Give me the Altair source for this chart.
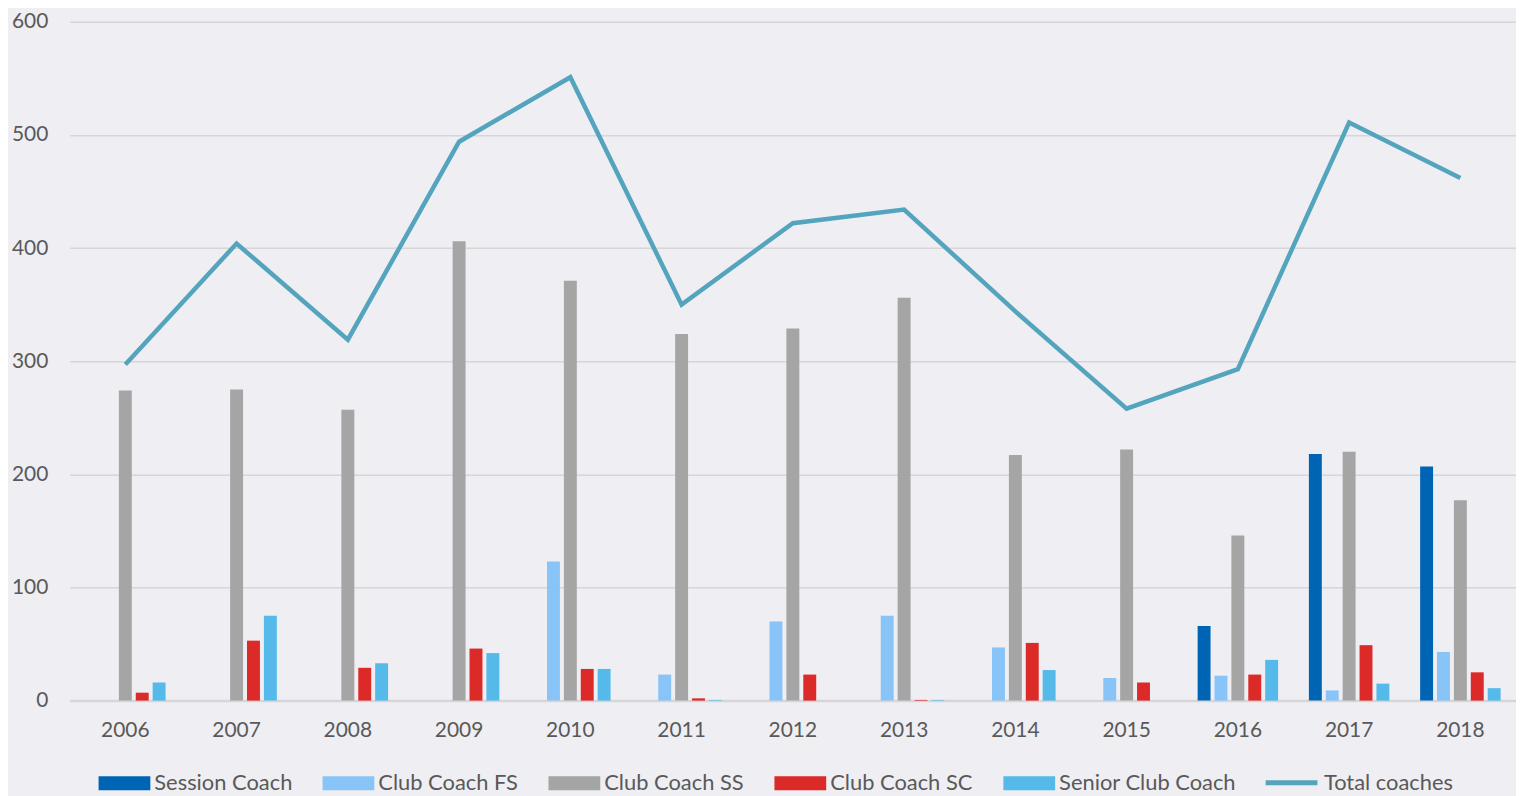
import altair as alt
import pandas as pd

years = [str(y) for y in range(2006, 2019)]
series = ["Session Coach", "Club Coach FS", "Club Coach SS", "Club Coach SC", "Senior Club Coach"]
session_coach = [0, 0, 0, 0, 0, 0, 0, 0, 0, 0, 66, 218, 207]
club_coach_fs = [0, 0, 0, 0, 123, 23, 70, 75, 47, 20, 22, 9, 43]
club_coach_ss = [274, 275, 257, 406, 371, 324, 329, 356, 217, 222, 146, 220, 177]
club_coach_sc = [7, 53, 29, 46, 28, 2, 23, 0.6, 51, 16, 23, 49, 25]
senior_club_coach = [16, 75, 33, 42, 28, 0.6, 0, 0.6, 27, 0, 36, 15, 11]
total_coaches = [297, 404, 319, 494, 551, 350, 422, 434, 344, 258, 293, 511, 462]

bar_colors = ["#0064B4", "#88C4F8", "#A5A5A5", "#DC2A28", "#55B9EA"]
line_color = "#55A4BE"

rows = []
for vals, name in zip([session_coach, club_coach_fs, club_coach_ss, club_coach_sc, senior_club_coach], series):
    for y, v in zip(years, vals):
        rows.append({"year": y, "series": name, "value": v})
bars_df = pd.DataFrame(rows)
line_df = pd.DataFrame({"year": years, "series": "Total coaches", "value": total_coaches})

FONT = "Lato"
TXT = "#595959"

x_enc = alt.X("year:N", sort=years, title=None,
              scale=alt.Scale(paddingInner=0.241, paddingOuter=0.1205),
              axis=alt.Axis(labelAngle=0, labelFontSize=21, labelColor=TXT, labelFont=FONT,
                            labelPadding=19, ticks=False, domainColor="#D6D6D9", domainWidth=2.5))
y_enc = alt.Y("value:Q", title=None,
              scale=alt.Scale(domain=[0, 600], nice=False),
              axis=alt.Axis(values=[0, 100, 200, 300, 400, 500, 600], labelFontSize=21, labelColor=TXT,
                            labelFont=FONT, labelPadding=22, ticks=False, domain=False,
                            gridColor="#D6D6D9", gridWidth=1.5))

bar_legend = alt.Legend(
    title=None, orient="none", legendX=29, legendY=739, direction="horizontal",
    labelFontSize=22, labelColor=TXT, labelFont=FONT, labelOffset=4, columnPadding=30,
    labelLimit=400,
    symbolType="M-1,-0.27H1V0.27H-1Z", symbolSize=2704, symbolStrokeWidth=0, symbolOpacity=1,
)
line_legend = alt.Legend(
    title=None, orient="none", legendX=1199, legendY=736, direction="horizontal",
    labelFontSize=22, labelColor=TXT, labelFont=FONT, labelOffset=4, labelLimit=400,
    symbolType="stroke", symbolSize=2704, symbolStrokeWidth=5, symbolOpacity=1,
    symbolStrokeColor=line_color,
)

bars = alt.Chart(bars_df).mark_bar().encode(
    x=x_enc,
    xOffset=alt.XOffset("series:N", sort=series,
                        scale=alt.Scale(paddingInner=0.235, paddingOuter=0.1175)),
    y=y_enc,
    color=alt.Color("series:N", scale=alt.Scale(domain=series, range=bar_colors),
                    legend=bar_legend, sort=series),
)

line = alt.Chart(line_df).mark_line(strokeWidth=4.5, strokeJoin="miter", strokeCap="butt").encode(
    x=alt.X("year:N", sort=years),
    y=alt.Y("value:Q"),
    stroke=alt.Stroke("series:N", scale=alt.Scale(domain=["Total coaches"], range=[line_color]),
                      legend=line_legend),
)

chart = alt.layer(bars, line).resolve_scale(color="independent").properties(
    width=1453, height=682, background="#EEEEF3",
    padding={"left": 3, "top": 1, "right": 0, "bottom": 0},
).configure_view(stroke=None).configure_axis(labelFont=FONT)

chart.save("out.html", embed_options={"renderer": "svg", "actions": False})
